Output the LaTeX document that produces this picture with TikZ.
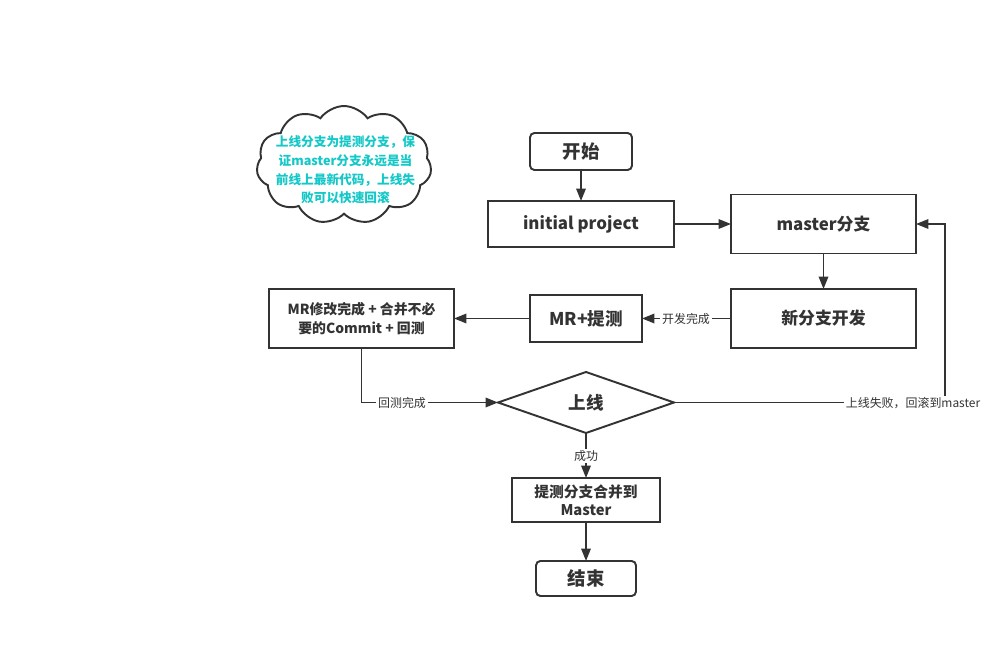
\documentclass[tikz,border=0pt]{standalone}
\usepackage{fontspec}
\setmainfont{Noto Sans CJK SC}
\usetikzlibrary{arrows.meta,shapes.geometric,shapes.symbols}
\definecolor{ink}{RGB}{51,51,51}
\definecolor{cyantext}{RGB}{20,200,200}
\tikzset{
  box/.style={draw=ink, line width=1.1pt, fill=white, inner sep=0pt, outer sep=0pt, align=center, text=ink, font=\bfseries},
  rbox/.style={box, rounded corners=2.5pt},
  conn/.style={draw=ink, line width=1.1pt, -{Triangle[length=0.25cm,width=0.19cm]}},
  lbl/.style={fill=white, inner sep=1pt, text=ink, font=\fontsize{6.8pt}{8pt}\selectfont},
}
\begin{document}
\begin{tikzpicture}[x=0.02cm,y=-0.02cm]
\useasboundingbox (0,0) rectangle (1008,658);
% nodes
\node[rbox, minimum width=2.04cm, minimum height=0.74cm, font=\bfseries\fontsize{10.5pt}{12pt}\selectfont] (start) at (581,151.5) {开始};
\node[box, minimum width=3.72cm, minimum height=0.92cm, font=\bfseries\fontsize{9.6pt}{11pt}\selectfont] (init) at (581,224) {initial project};
\node[box, minimum width=3.7cm, minimum height=1.18cm, font=\bfseries\fontsize{9.6pt}{11pt}\selectfont] (master) at (823.5,224) {master分支};
\node[box, minimum width=3.7cm, minimum height=1.18cm, font=\bfseries\fontsize{9.6pt}{11pt}\selectfont] (dev) at (823.5,318.5) {新分支开发};
\node[box, minimum width=2.24cm, minimum height=0.94cm, font=\bfseries\fontsize{10pt}{11pt}\selectfont] (mr) at (586,318.5) {MR+提测};
\node[box, minimum width=3.7cm, minimum height=1.18cm, font=\bfseries\fontsize{7.9pt}{10.5pt}\selectfont] (fix) at (361.5,318.5) {MR修改完成 + 合并不必\\要的Commit + 回测};
\node[box, shape=diamond, aspect=2.9, minimum width=3.52cm, minimum height=1.22cm, font=\bfseries\fontsize{10pt}{11pt}\selectfont] (online) at (586,402.5) {上线};
\node[box, minimum width=2.96cm, minimum height=0.88cm, font=\bfseries\fontsize{8.4pt}{10.5pt}\selectfont] (merge) at (586,500) {提测分支合并到\\Master};
\node[rbox, minimum width=2.0cm, minimum height=0.7cm, font=\bfseries\fontsize{10.5pt}{12pt}\selectfont] (end) at (586,578.5) {结束};
% cloud note
\node[shape=cloud, cloud puffs=11, cloud puff arc=110, cloud ignores aspect, draw=ink, line width=1.1pt, fill=white, minimum width=3.5cm, minimum height=2.36cm, inner sep=0pt] (cloud) at (344,165) {};
\node[align=center, inner sep=0pt, text=cyantext, font=\bfseries\fontsize{7.2pt}{10.6pt}\selectfont] (note) at (345.5,170) {上线分支为提测分支，保\\证master分支永远是当\\前线上最新代码，上线失\\败可以快速回滚};
% connectors
\draw[conn] (start) -- (init);
\draw[conn] (init) -- (master);
\draw[conn] (master) -- (dev);
\draw[conn] (dev) -- (mr);
\node[lbl] (l1) at (686,319) {开发完成};
\draw[conn] (mr) -- (fix);
\coordinate (c1) at (361.5,402.5);
\draw[conn] (fix.south) -- (c1) -- (online.west);
\node[lbl] (l2) at (402,403) {回测完成};
\coordinate (c2) at (945,402.5);
\coordinate (c3) at (945,224);
\draw[conn] (online.east) -- (c2) -- (c3) -- (master.east);
\node[lbl] (l3) at (913,403.5) {上线失败，回滚到master};
\draw[conn] (online.south) -- (merge.north);
\node[lbl] (l4) at (586,456) {成功};
\draw[conn] (merge) -- (end);
\end{tikzpicture}
\end{document}
